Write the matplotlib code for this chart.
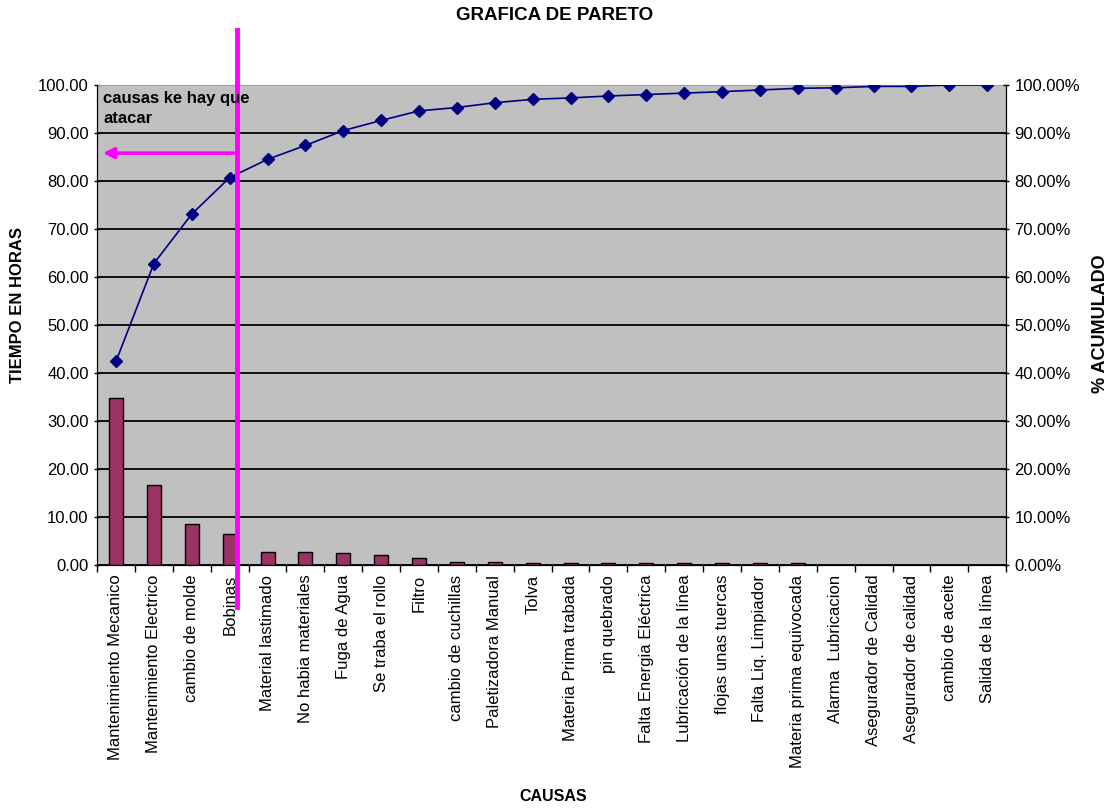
import numpy as np
import matplotlib
matplotlib.use('Agg')
import matplotlib.pyplot as plt
from matplotlib.ticker import FormatStrFormatter, FixedLocator

plt.rcParams['font.family'] = ['Liberation Sans', 'DejaVu Sans']

#Data
causas = ['Mantenimiento Mecanico', 'Mantenimiento Electrico', 'cambio de molde', 'Bobinas',
          'Material lastimado', 'No habia materiales', 'Fuga de Agua', 'Se traba el rollo',
          'Filtro', 'cambio de cuchillas', 'Paletizadora Manual', 'Tolva',
          'Materia Prima trabada', 'pin quebrado', 'Falta Energia Eléctrica',
          'Lubricación de la línea', 'flojas unas tuercas', 'Falta Liq. Limpiador',
          'Materia prima equivocada', 'Alarma  Lubricacion', 'Asegurador de Calidad',
          'Asegurador de calidad', 'cambio de aceite', 'Salida de la línea']
horas = [34.7, 16.7, 8.5, 6.5, 2.7, 2.7, 2.4, 2.1, 1.4, 0.7, 0.7, 0.4,
         0.4, 0.4, 0.4, 0.4, 0.4, 0.4, 0.4, 0.0, 0.0, 0.0, 0.0, 0.0]
acumulado = [42.4, 62.8, 73.1, 80.7, 84.5, 87.4, 90.5, 92.6, 94.6, 95.3, 96.3, 97.0,
             97.3, 97.7, 98.0, 98.3, 98.6, 98.95, 99.3, 99.4, 99.7, 99.7, 100.0, 100.0]

x = np.arange(len(causas))

fig = plt.figure(figsize=(11.13, 8.09), dpi=100)
ax = fig.add_axes([0.0872, 0.3016, 0.8168, 0.5934])
ax.set_facecolor('#C0C0C0')

#Bars
ax.bar(x, horas, width=0.37, color='#993366', edgecolor='black', linewidth=1, zorder=3)
ax.set_xlim(-0.5, 23.5)
ax.set_ylim(0, 100)
ax.set_yticks(np.arange(0, 101, 10))
ax.yaxis.set_major_formatter(FormatStrFormatter('%.2f'))
ax.grid(axis='y', color='black', linewidth=1.3, zorder=1)
ax.set_axisbelow(True)

ax.set_xticks(x)
ax.set_xticklabels(causas, rotation=90, fontsize=12)
ax.tick_params(axis='x', which='major', length=0, pad=7)
ax.xaxis.set_minor_locator(FixedLocator(np.arange(-0.5, 24, 1)))
ax.tick_params(axis='x', which='minor', length=5, direction='out', width=1)
ax.tick_params(axis='y', length=5, direction='inout', labelsize=12, width=1)
ax.spines['top'].set_color('#A0A0A0')
for s in ['left', 'right', 'bottom']:
    ax.spines[s].set_color('black')

#Cumulative line on second axis
ax2 = ax.twinx()
ax2.plot(x, acumulado, color='#000080', linewidth=1.2, marker='D', markersize=6, zorder=4)
ax2.set_ylim(0, 100)
ax2.set_yticks(np.arange(0, 101, 10))
ax2.yaxis.set_major_formatter(FormatStrFormatter('%.2f%%'))
ax2.tick_params(axis='y', length=5, direction='inout', labelsize=12, width=1)
ax2.spines['top'].set_visible(False)

#Magenta marker line and arrow
ax2.plot([3.2, 3.2], [-8.8, 111.5], color='#FF00FF', linewidth=3.5, clip_on=False, zorder=6)
ax2.annotate('', xy=(-0.42, 85.8), xytext=(3.2, 85.8),
             arrowprops=dict(arrowstyle='-|>', color='#FF00FF', lw=2.5, mutation_scale=16),
             zorder=6)
ax2.text(-0.33, 98.8, 'causas ke hay que\natacar', fontsize=12, fontweight='bold',
         va='top', ha='left', linespacing=1.45, zorder=7)

#Titles
fig.text(0.498, 0.981, 'GRAFICA DE PARETO', fontsize=13.5, fontweight='bold', ha='center', va='center')
fig.text(0.497, 0.015, 'CAUSAS', fontsize=11.5, fontweight='bold', ha='center', va='center')
fig.text(0.016, 0.623, 'TIEMPO EN HORAS', fontsize=12, fontweight='bold', rotation=90,
         ha='center', va='center')
fig.text(0.989, 0.6, '% ACUMULADO', fontsize=13, fontweight='bold', rotation=90,
         ha='center', va='center')

fig.savefig('out.png', dpi=100)
